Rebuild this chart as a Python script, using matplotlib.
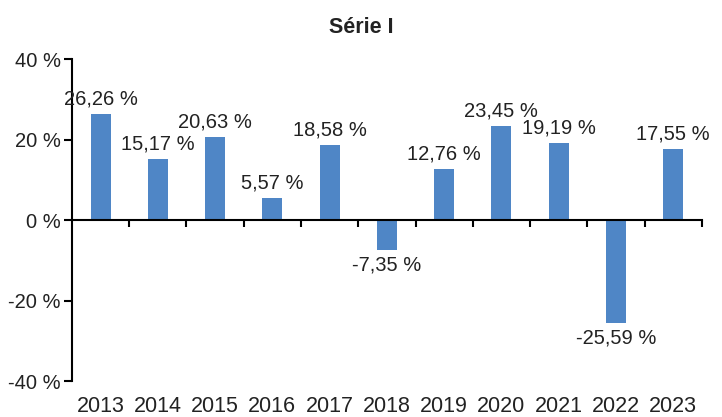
import matplotlib
matplotlib.use("Agg")
import matplotlib.pyplot as plt
from matplotlib.ticker import FixedLocator
import matplotlib.transforms as mtransforms

years = ["2013", "2014", "2015", "2016", "2017", "2018", "2019", "2020", "2021", "2022", "2023"]
values = [26.26, 15.17, 20.63, 5.57, 18.58, -7.35, 12.76, 23.45, 19.19, -25.59, 17.55]
yticks = [-40, -20, 0, 20, 40]
title = "Série I"

plt.rcParams['font.family'] = ['Liberation Sans', 'DejaVu Sans']

fig = plt.figure(figsize=(7.22, 4.17), dpi=100)
ax = fig.add_axes([0.0997, 0.0863, 0.8723, 0.7722])

x = list(range(len(years)))
bars = ax.bar(x, values, width=0.35, color='#4F86C6', zorder=2)

ax.set_xlim(-0.5, len(years) - 0.5)
ax.set_ylim(-40, 40)
ax.set_yticks(yticks)
ax.set_yticklabels([f"{v} %" for v in yticks], fontsize=14.5, color='#222222')

for s in ['top', 'right']:
    ax.spines[s].set_visible(False)
ax.spines['left'].set_linewidth(1.5)
ax.spines['bottom'].set_position(('data', 0))
ax.spines['bottom'].set_linewidth(1.5)
ax.tick_params(axis='y', direction='out', length=6, width=1.5, pad=2)

ax.set_xticks(x)
ax.set_xticklabels([])
ax.tick_params(axis='x', which='major', length=0)
ax.xaxis.set_minor_locator(FixedLocator([i + 0.5 for i in x]))
ax.tick_params(axis='x', which='minor', direction='out', length=5, width=1.5)

trans = mtransforms.blended_transform_factory(ax.transData, ax.transAxes)
for i, y in zip(x, years):
    ax.text(i, -0.045, y, transform=trans, ha='center', va='top', fontsize=15.5, color='#222222')

for i, v in zip(x, values):
    lbl = f"{v:.2f}".replace('.', ',') + " %"
    if v >= 0:
        ax.annotate(lbl, (i, v), xytext=(0, 4), textcoords='offset points', ha='center', va='bottom',
                    fontsize=14.5, color='#222222')
    else:
        ax.annotate(lbl, (i, v), xytext=(0, -4), textcoords='offset points', ha='center', va='top',
                    fontsize=14.5, color='#222222')

fig.text(0.5, 0.935, title, ha='center', va='center', fontsize=15.5, fontweight='bold', color='#222222')

fig.savefig("out.png", dpi=100)
